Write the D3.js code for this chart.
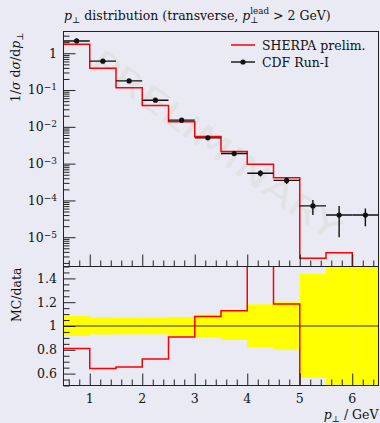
<!DOCTYPE html>
<html>
<head>
<meta charset="utf-8">
<script src="https://cdn.jsdelivr.net/npm/d3@7"></script>
<style>
body{margin:0;background:#eaeaf4;}
svg{display:block;}
.ax path{display:none;}
.ax line{stroke:#222;stroke-width:1;}
text{font-family:"DejaVu Serif",serif;fill:#111;}
</style>
</head>
<body>
<div id="chart"></div>
<script>
var w=380, h=423;
var padL=63.5, padR=378.5, padT=31.5, padMid=266.5, padB=385.5;

// bins of p_perp (GeV)
var binLo=[0.5,1.0,1.5,2.0,2.5,3.0,3.5,4.0,4.5,5.0,5.5,6.0];
var binHi=[1.0,1.5,2.0,2.5,3.0,3.5,4.0,4.5,5.0,5.5,6.0,6.5];
// CDF Run-I data points and errors
var cdfVal=[2.16,0.61,0.177,0.053,0.0152,0.00502,0.00188,0.00055,0.00035,7.1e-5,4.0e-5,4.0e-5];
var cdfErr=[0.18,0.043,0.0124,0.0037,0.00117,0.00048,0.00022,0.0001,0.00007,3.1e-5,3.0e-5,2.0e-5];
// SHERPA prelim. histogram
var sherpaVal=[1.75,0.392,0.116,0.0383,0.0138,0.00542,0.00212,0.00096,0.000415,2.7e-6,3.8e-6,0];

var xTicks=[1,2,3,4,5,6];
var logTicks=[1,1e-1,1e-2,1e-3,1e-4,1e-5];
var logExp=["0","−1","−2","−3","−4","−5"];
var ratioTicks=[0.6,0.8,1,1.2,1.4];

var fs=12.5;

var svg=d3.select("#chart").append("svg").attr("width",w).attr("height",h);

var xScale=d3.scaleLinear().domain([0.5,6.5]).range([padL,padR]);
var yScale=d3.scaleLog().domain([1.6e-6,3.9]).range([padMid,padT]);
var rScale=d3.scaleLinear().domain([0.5,1.5]).range([padB,padMid]);

var defs=svg.append("defs");
defs.append("clipPath").attr("id","clipMain").append("rect")
 .attr("x",padL).attr("y",padT).attr("width",padR-padL).attr("height",padMid-padT);
defs.append("clipPath").attr("id","clipRatio").append("rect")
 .attr("x",padL).attr("y",padMid).attr("width",padR-padL).attr("height",padB-padMid);

//watermark
svg.append("text")
 .attr("transform","translate(216,145) rotate(36)")
 .attr("text-anchor","middle")
 .attr("dy","0.36em")
 .attr("textLength",300)
 .attr("lengthAdjust","spacingAndGlyphs")
 .style("font-family","DejaVu Sans")
 .style("font-size","33px")
 .style("fill","#e2e2e4")
 .text("PRELIMINARY");

// ---- main plot ----
var gMain=svg.append("g").attr("clip-path","url(#clipMain)");

function stepPoints(vals,lo,hi,f){
  var pts=[];
  for(var i=0;i<vals.length;i++){
    pts.push([lo[i],f(vals[i])]);
    pts.push([hi[i],f(vals[i])]);
  }
  return pts;
}
var mainLine=d3.line()
 .x(function(d){return xScale(d[0]);})
 .y(function(d){return yScale(d[1]);});
gMain.append("path")
 .datum(stepPoints(sherpaVal,binLo,binHi,function(v){return Math.max(v,1e-9);}))
 .attr("d",mainLine)
 .attr("fill","none").attr("stroke","#ff0000").attr("stroke-width",1.5);

var pts=gMain.selectAll(".pt").data(cdfVal).enter().append("g").attr("class","pt");
pts.append("line")
 .attr("x1",function(d,i){return xScale(binLo[i]);})
 .attr("x2",function(d,i){return xScale(binHi[i]);})
 .attr("y1",function(d){return yScale(d);})
 .attr("y2",function(d){return yScale(d);})
 .attr("stroke","#111").attr("stroke-width",1.4);
pts.append("line")
 .attr("x1",function(d,i){return xScale((binLo[i]+binHi[i])/2);})
 .attr("x2",function(d,i){return xScale((binLo[i]+binHi[i])/2);})
 .attr("y1",function(d,i){return yScale(d+cdfErr[i]);})
 .attr("y2",function(d,i){return yScale(Math.max(d-cdfErr[i],1e-9));})
 .attr("stroke","#111").attr("stroke-width",1.4);
pts.append("circle")
 .attr("cx",function(d,i){return xScale((binLo[i]+binHi[i])/2);})
 .attr("cy",function(d){return yScale(d);})
 .attr("r",2.6).attr("fill","#111");

// main axes
var allLog=yScale.ticks();
var majorLog=allLog.filter(function(d){return Math.abs(Math.log10(d)-Math.round(Math.log10(d)))<1e-6;});
var minorLog=allLog.filter(function(d){return majorLog.indexOf(d)<0;});
svg.append("g").attr("class","ax").attr("transform","translate("+padL+",0)")
 .call(d3.axisLeft(yScale).tickValues(majorLog).tickSize(-12).tickFormat(""));
svg.append("g").attr("class","ax").attr("transform","translate("+padL+",0)")
 .call(d3.axisLeft(yScale).tickValues(minorLog).tickSize(-6).tickFormat(""));

var minorX=xScale.ticks(30).filter(function(d){return xTicks.indexOf(d)<0;});
svg.append("g").attr("class","ax").attr("transform","translate(0,"+padMid+")")
 .call(d3.axisBottom(xScale).tickValues(xTicks).tickSize(-12).tickFormat(""));
svg.append("g").attr("class","ax").attr("transform","translate(0,"+padMid+")")
 .call(d3.axisBottom(xScale).tickValues(minorX).tickSize(-6).tickFormat(""));

// log labels
logTicks.forEach(function(v,i){
  var t=svg.append("text").attr("x",57).attr("y",yScale(v)).attr("dy","0.35em")
   .attr("text-anchor","end").style("font-size",fs+"px");
  if(v===1){t.text("1");}
  else{
    t.append("tspan").text("10");
    t.append("tspan").attr("dy","-0.45em").style("font-size","9px").text(logExp[i]);
  }
});

svg.append("rect").attr("x",padL).attr("y",padT).attr("width",padR-padL).attr("height",padMid-padT)
 .attr("fill","none").attr("stroke","#222").attr("stroke-width",1);

// ---- ratio plot ----
var gRatio=svg.append("g").attr("clip-path","url(#clipRatio)");
gRatio.selectAll(".band").data(cdfVal).enter().append("rect")
 .attr("x",function(d,i){return xScale(binLo[i]);})
 .attr("width",function(d,i){return xScale(binHi[i])-xScale(binLo[i])+0.3;})
 .attr("y",function(d,i){return rScale(1+cdfErr[i]/d);})
 .attr("height",function(d,i){return rScale(1-cdfErr[i]/d)-rScale(1+cdfErr[i]/d);})
 .attr("fill","#ffff00");
gRatio.append("line").attr("x1",padL).attr("x2",padR).attr("y1",rScale(1)).attr("y2",rScale(1))
 .attr("stroke","#333").attr("stroke-width",1.2);
var ratioLine=d3.line()
 .x(function(d){return xScale(d[0]);})
 .y(function(d){return rScale(d[1]);});
var ratioVals=sherpaVal.map(function(v,i){return v/cdfVal[i];});
gRatio.append("path")
 .datum(stepPoints(ratioVals,binLo,binHi,function(v){return v;}))
 .attr("d",ratioLine)
 .attr("fill","none").attr("stroke","#ff0000").attr("stroke-width",1.5);

var minorR=rScale.ticks(20).filter(function(d){return ratioTicks.indexOf(+d.toFixed(2))<0;});
svg.append("g").attr("class","ax").attr("transform","translate("+padL+",0)")
 .call(d3.axisLeft(rScale).tickValues(ratioTicks).tickSize(-12).tickFormat(""));
svg.append("g").attr("class","ax").attr("transform","translate("+padL+",0)")
 .call(d3.axisLeft(rScale).tickValues(minorR).tickSize(-6).tickFormat(""));
ratioTicks.forEach(function(v){
  svg.append("text").attr("x",57).attr("y",rScale(v)).attr("dy","0.35em")
   .attr("text-anchor","end").style("font-size",fs+"px").text(String(v));
});

svg.append("g").attr("class","ax").attr("transform","translate(0,"+padB+")")
 .call(d3.axisBottom(xScale).tickValues(xTicks).tickSize(-12).tickFormat(""));
svg.append("g").attr("class","ax").attr("transform","translate(0,"+padB+")")
 .call(d3.axisBottom(xScale).tickValues(minorX).tickSize(-6).tickFormat(""));
xTicks.forEach(function(v){
  svg.append("text").attr("x",xScale(v)).attr("y",padB+17)
   .attr("text-anchor","middle").style("font-size",fs+"px").text(v);
});

svg.append("rect").attr("x",padL).attr("y",padMid).attr("width",padR-padL).attr("height",padB-padMid)
 .attr("fill","none").attr("stroke","#222").attr("stroke-width",1);

// ---- labels ----
function pPerp(t,size){
  t.append("tspan").style("font-style","italic").text("p");
  return t.append("tspan").attr("dy",3).style("font-size",(size*0.7)+"px").text("⊥");
}
// title
var title=svg.append("text").attr("x",64).attr("y",20).style("font-size",fs+"px");
pPerp(title,fs);
title.append("tspan").attr("dy",-3).text(" distribution (transverse, ");
var perp2=pPerp(title,fs);
var lead=title.append("tspan").attr("dy",-9).style("font-size",(fs*0.7)+"px").text("lead");
lead.attr("dx",-perp2.node().getComputedTextLength());
title.append("tspan").attr("dy",6).text(" > 2 GeV)");

// y label
var yl=svg.append("text").attr("transform","translate(20,"+(padT+1)+") rotate(-90)")
 .attr("text-anchor","end").style("font-size",fs+"px");
yl.append("tspan").text("1/");
yl.append("tspan").style("font-style","italic").text("σ");
yl.append("tspan").text(" d");
yl.append("tspan").style("font-style","italic").text("σ");
yl.append("tspan").text("/d");
pPerp(yl,fs);

svg.append("text").attr("transform","translate(21,"+(padMid+1)+") rotate(-90)")
 .attr("text-anchor","end").style("font-size",fs+"px").text("MC/data");

// x label
var xl=svg.append("text").attr("x",padR).attr("y",419).attr("text-anchor","end").style("font-size",fs+"px");
pPerp(xl,fs);
xl.append("tspan").attr("dy",-3).text(" / GeV");

// legend
var legend=svg.append("g");
legend.append("line").attr("x1",231).attr("x2",255).attr("y1",45).attr("y2",45)
 .attr("stroke","#ff0000").attr("stroke-width",1.5);
legend.append("text").attr("x",262).attr("y",49.5).style("font-size",fs+"px").text("SHERPA prelim.");
legend.append("line").attr("x1",231).attr("x2",255).attr("y1",62).attr("y2",62)
 .attr("stroke","#111").attr("stroke-width",1.4);
legend.append("circle").attr("cx",243).attr("cy",62).attr("r",2.6).attr("fill","#111");
legend.append("text").attr("x",262).attr("y",66.5).style("font-size",fs+"px").text("CDF Run-I");
</script>
</body>
</html>
